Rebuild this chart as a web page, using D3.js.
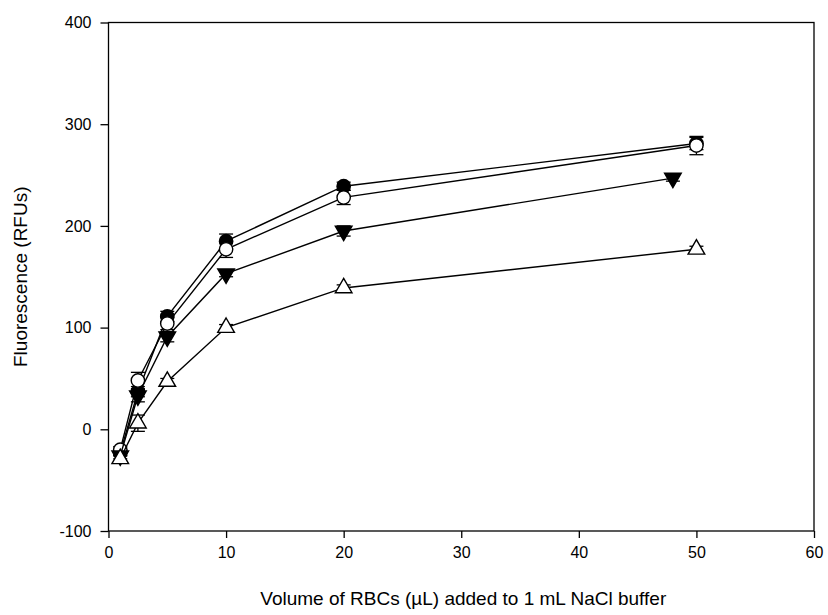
<!DOCTYPE html>
<html>
<head>
<meta charset="utf-8">
<script src="https://cdn.jsdelivr.net/npm/d3@7"></script>
<style>
  body { margin: 0; background: #fff; }
  svg { font-family: "Liberation Sans", Arial, sans-serif; }
</style>
</head>
<body>
<div id="chart"></div>
<script>
// data
const xTicks = [0, 10, 20, 30, 40, 50, 60]
const yTicks = [-100, 0, 100, 200, 300, 400]

const xVals = [1, 2.5, 5, 10, 20, 50]
const xValsTri = [1, 2.5, 5, 10, 20, 48]

const filledCircle = [-23, 37, 111, 185, 239, 281]
const filledCircleErr = [3, 5, 5, 7, 4, 6]
const openCircle = [-20, 48, 104, 177, 228, 279]
const openCircleErr = [3, 8, 6, 8, 7, 9]
const filledTri = [-26, 33, 91, 153, 195, 247]
const filledTriErr = [3, 6, 5, 3, 5, 3]
const openTri = [-29, 6, 47, 100, 139, 177]
const openTriErr = [3, 8, 3, 3, 3, 3]

const series = [
  { xs: xVals, ys: filledCircle, err: filledCircleErr, shape: d3.symbolCircle, fill: "#000" },
  { xs: xVals, ys: openCircle, err: openCircleErr, shape: d3.symbolCircle, fill: "#fff" },
  { xs: xValsTri, ys: filledTri, err: filledTriErr, shape: "down", fill: "#000" },
  { xs: xVals, ys: openTri, err: openTriErr, shape: d3.symbolTriangle, fill: "#fff" }
]

const width = 828
const height = 615
const mLeft = 108.5, mRight = 814, mTop = 22.5, mBottom = 531

const x = d3.scaleLinear().domain([0, 60]).range([mLeft, mRight])
const y = d3.scaleLinear().domain([-100, 400]).range([mBottom, mTop])

const svg = d3.select("#chart").append("svg")
  .attr("width", width)
  .attr("height", height)

// frame
svg.append("rect")
  .attr("x", mLeft).attr("y", mTop)
  .attr("width", mRight - mLeft).attr("height", mBottom - mTop)
  .attr("fill", "none").attr("stroke", "#000").attr("stroke-width", 1.3)

const xAxis = svg.append("g")
  .attr("transform", `translate(0,${mBottom})`)
  .call(d3.axisBottom(x).tickValues(xTicks).tickSize(7).tickPadding(9).tickFormat(d => String(d)))
const yAxis = svg.append("g")
  .attr("transform", `translate(${mLeft},0)`)
  .call(d3.axisLeft(y).tickValues(yTicks).tickSize(8).tickPadding(9).tickFormat(d => String(d)))

for (const ax of [xAxis, yAxis]) {
  ax.select(".domain").remove()
  ax.selectAll("line").attr("stroke", "#000").attr("stroke-width", 1.3)
  ax.selectAll("text").attr("font-size", 16).attr("fill", "#000")
    .style("font-family", "Liberation Sans, Arial, sans-serif")
}

svg.append("text")
  .attr("x", (mLeft + mRight) / 2 + 2).attr("y", 605)
  .attr("text-anchor", "middle").attr("font-size", 19)
  .text("Volume of RBCs (µL) added to 1 mL NaCl buffer")

svg.append("text")
  .attr("transform", `translate(27,${(mTop + mBottom) / 2}) rotate(-90)`)
  .attr("text-anchor", "middle").attr("font-size", 19)
  .text("Fluorescence (RFUs)")

const line = d3.line().x(d => x(d[0])).y(d => y(d[1]))

series.forEach(s => {
  const pts = s.xs.map((xv, i) => [xv, s.ys[i], s.err[i]])
  const g = svg.append("g")

  g.append("path")
    .attr("d", line(pts))
    .attr("fill", "none").attr("stroke", "#000").attr("stroke-width", 1.4)

  // error bars
  const eb = g.selectAll(".eb").data(pts).join("g")
  eb.append("line")
    .attr("x1", d => x(d[0])).attr("x2", d => x(d[0]))
    .attr("y1", d => y(d[1] - d[2])).attr("y2", d => y(d[1] + d[2]))
    .attr("stroke", "#000").attr("stroke-width", 1.3)
  for (const sign of [-1, 1]) {
    eb.append("line")
      .attr("x1", d => x(d[0]) - 7).attr("x2", d => x(d[0]) + 7)
      .attr("y1", d => y(d[1] + sign * d[2])).attr("y2", d => y(d[1] + sign * d[2]))
      .attr("stroke", "#000").attr("stroke-width", 1.3)
  }

  const isDown = s.shape === "down"
  const sym = d3.symbol().type(isDown ? d3.symbolTriangle : s.shape)
    .size(s.shape === d3.symbolCircle ? 140 : 120)
  g.selectAll(".m").data(pts).join("path")
    .attr("d", sym())
    .attr("transform", d => `translate(${x(d[0])},${y(d[1])})` + (isDown ? " rotate(180)" : ""))
    .attr("fill", s.fill).attr("stroke", "#000").attr("stroke-width", 1.4)
})
</script>
</body>
</html>
